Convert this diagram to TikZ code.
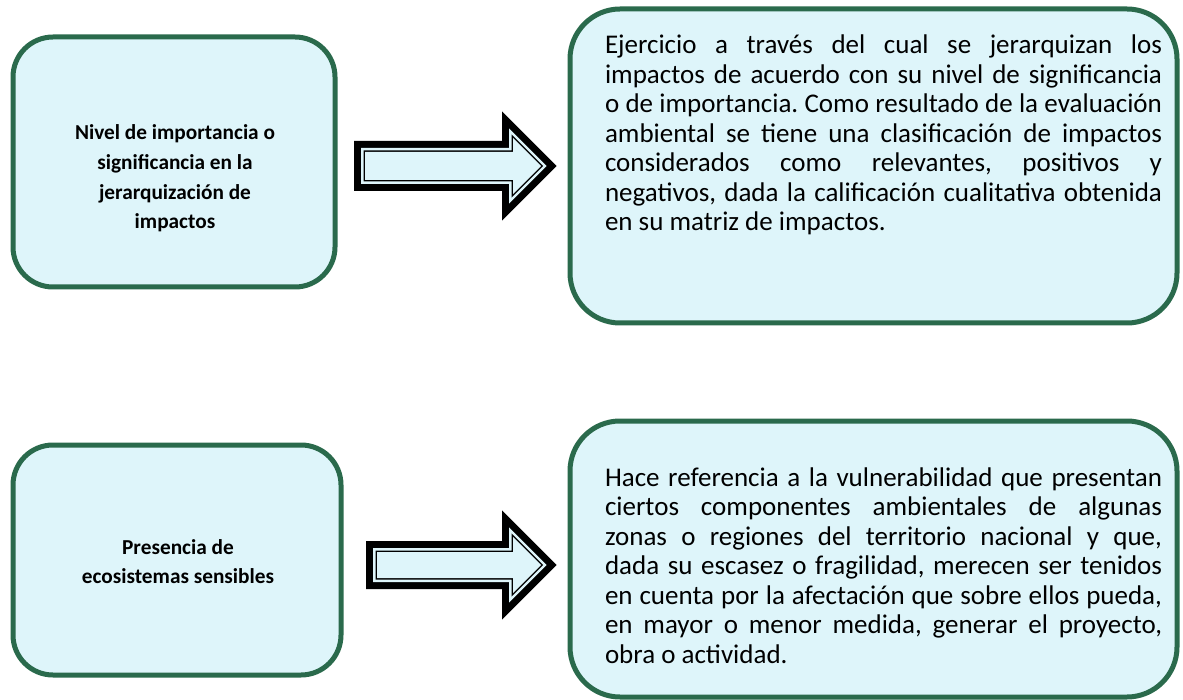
\documentclass[tikz,border=0pt]{standalone}
\usepackage{fontspec}
\setmainfont{Carlito}
\definecolor{boxfill}{RGB}{222,245,250}
\definecolor{boxline}{RGB}{42,106,76}
\tikzset{
  panel/.style={draw=boxline, fill=boxfill, line width=5pt, inner sep=0pt, outer sep=0pt},
  txt/.style={inner sep=0pt, outer sep=0pt, text=black},
  arrowouter/.style={draw=black, line width=22pt, line join=miter},
  arrowgap/.style={draw=boxfill, line width=8pt, line join=miter},
  arrowinner/.style={draw=black, line width=3pt, line join=miter},
  arrowfill/.style={fill=boxfill}
}
\newcommand{\BlockArrow}[1]{%
  \path[arrowouter] #1;
  \path[arrowgap] #1;
  \path[arrowinner] #1;
  \path[arrowfill] #1;}
\newcommand{\JLine}[1]{\hbox to\hsize{#1}}
\newcommand{\CLine}[1]{\hbox to\hsize{\hfil #1\hfil}}
\begin{document}
\begin{tikzpicture}[x=1pt,y=-1pt]
\useasboundingbox (0,0) rectangle (1183,700);

% panels
\node[panel, rounded corners=40pt, minimum width=322pt, minimum height=250pt] (b1) at (174,162) {};
\node[panel, rounded corners=50pt, minimum width=607pt, minimum height=314pt] (b2) at (873.5,166) {};
\node[panel, rounded corners=40pt, minimum width=328pt, minimum height=230pt] (b3) at (177,560) {};
\node[panel, rounded corners=50pt, minimum width=607pt, minimum height=276pt] (b4) at (873.5,559) {};

% block arrows
\BlockArrow{(365,152) -- (513,152) -- (513,138) -- (541,166) -- (513,194) -- (513,180) -- (365,180) -- cycle}
\BlockArrow{(377,552) -- (513,552) -- (513,537) -- (541,565) -- (513,593) -- (513,578) -- (377,578) -- cycle}

% texts
\node[txt, anchor=base] (t1) at (175,140) {\bfseries\fontsize{21.3}{29.6}\selectfont\frenchspacing
  \vtop{\hsize=320pt \baselineskip=29.6pt \lineskiplimit=-100pt \lineskip=0pt
  \CLine{Nivel de importancia o}
  \CLine{significancia en la}
  \CLine{jerarquización de}
  \CLine{impactos}}};

\node[txt, anchor=base west] (t2) at (605,54) {\fontsize{27}{29.5}\selectfont\frenchspacing
  \vtop{\hsize=557pt \baselineskip=29.5pt \lineskiplimit=-100pt \lineskip=0pt
  \JLine{Ejercicio a través del cual se jerarquizan los}
  \JLine{impactos de acuerdo con su nivel de significancia}
  \JLine{o de importancia. Como resultado de la evaluación}
  \JLine{ambiental se tiene una clasificación de impactos}
  \JLine{considerados como relevantes, positivos y}
  \JLine{negativos, dada la calificación cualitativa obtenida}
  \hbox{en su matriz de impactos.}}};

\node[txt, anchor=base] (t3) at (178,554) {\bfseries\fontsize{21.3}{29.6}\selectfont\frenchspacing
  \vtop{\hsize=320pt \baselineskip=29.6pt \lineskiplimit=-100pt \lineskip=0pt
  \CLine{Presencia de}
  \CLine{ecosistemas sensibles}}};

\node[txt, anchor=base west] (t4) at (605,486) {\fontsize{27}{29.5}\selectfont\frenchspacing
  \vtop{\hsize=557pt \baselineskip=29.5pt \lineskiplimit=-100pt \lineskip=0pt
  \JLine{Hace referencia a la vulnerabilidad que presentan}
  \JLine{ciertos componentes ambientales de algunas}
  \JLine{zonas o regiones del territorio nacional y que,}
  \JLine{dada su escasez o fragilidad, merecen ser tenidos}
  \JLine{en cuenta por la afectación que sobre ellos pueda,}
  \JLine{en mayor o menor medida, generar el proyecto,}
  \hbox{obra o actividad.}}};
\end{tikzpicture}
\end{document}
